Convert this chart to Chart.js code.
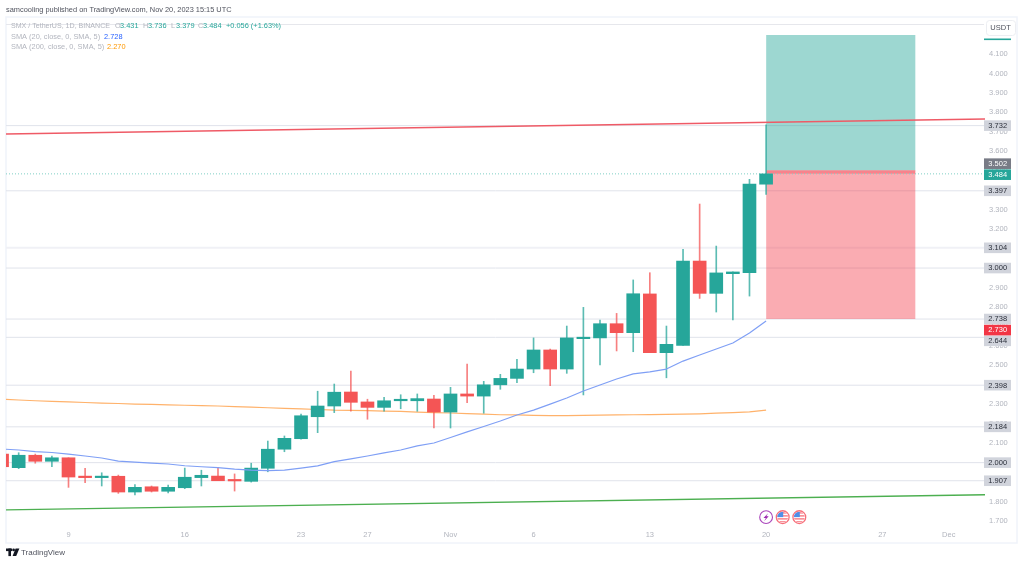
<!DOCTYPE html>
<html>
<head>
<meta charset="utf-8">
<title>SMX / TetherUS</title>
<script src="https://cdn.jsdelivr.net/npm/chart.js@4"></script>
<style>
  html, body { margin: 0; padding: 0; background: #ffffff; }
  canvas { display: block; }
</style>
</head>
<body>
<canvas id="chart" width="1024" height="565"></canvas>
<script>
// Daily candles, counted in days from 1 Oct 2023 (day 32 is 1 Nov).
const days = [5,6,7,8,9,10,11,12,13,14,15,16,17,18,19,20,21,22,23,24,25,26,27,28,29,30,31,32,33,34,35,36,37,38,39,40,41,42,43,44,45,46,47,48,49,50,51];
const opens = [2.044,1.974,2.038,2.007,2.025,1.926,1.923,1.930,1.849,1.876,1.853,1.871,1.923,1.931,1.911,1.904,1.971,2.069,2.123,2.236,2.291,2.363,2.312,2.284,2.318,2.318,2.327,2.260,2.353,2.342,2.400,2.433,2.481,2.579,2.481,2.637,2.641,2.714,2.668,2.867,2.565,2.603,3.036,2.870,2.971,2.976,3.431];
const highs = [2.044,2.051,2.044,2.034,2.025,1.971,1.948,1.936,1.887,1.880,1.885,1.972,1.961,1.976,1.942,1.997,2.111,2.137,2.250,2.367,2.404,2.471,2.326,2.336,2.349,2.353,2.346,2.387,2.507,2.418,2.454,2.531,2.641,2.584,2.702,2.798,2.733,2.767,2.939,2.976,2.702,3.096,3.329,3.113,2.980,3.456,3.736];
const lows = [1.979,1.969,1.997,1.979,1.873,1.897,1.880,1.842,1.834,1.849,1.845,1.866,1.880,1.907,1.854,1.900,1.953,2.056,2.120,2.154,2.257,2.264,2.223,2.264,2.277,2.264,2.178,2.178,2.308,2.254,2.377,2.411,2.462,2.395,2.459,2.348,2.502,2.574,2.570,2.565,2.436,2.603,2.844,2.774,2.733,2.856,3.379];
const closes = [1.979,2.038,2.007,2.025,1.926,1.923,1.930,1.849,1.873,1.853,1.873,1.925,1.935,1.907,1.906,1.972,2.069,2.125,2.241,2.291,2.362,2.310,2.284,2.318,2.322,2.329,2.260,2.353,2.342,2.400,2.433,2.481,2.579,2.481,2.641,2.641,2.714,2.668,2.868,2.565,2.608,3.036,2.870,2.975,2.980,3.431,3.484];

// Moving averages, one value per candle.
const sma20 = [2.070,2.065,2.057,2.052,2.044,2.034,2.024,2.008,2.003,1.998,1.993,1.984,1.979,1.974,1.967,1.962,1.959,1.962,1.972,1.983,2.005,2.019,2.034,2.050,2.065,2.086,2.101,2.129,2.158,2.186,2.214,2.245,2.270,2.301,2.332,2.368,2.399,2.430,2.456,2.466,2.481,2.522,2.553,2.584,2.615,2.666,2.728];
const sma200 = [2.326,2.322,2.318,2.315,2.312,2.309,2.306,2.304,2.301,2.299,2.297,2.295,2.293,2.291,2.288,2.285,2.282,2.279,2.276,2.273,2.270,2.269,2.267,2.265,2.263,2.260,2.257,2.255,2.252,2.249,2.246,2.245,2.243,2.242,2.242,2.243,2.244,2.245,2.246,2.247,2.248,2.249,2.251,2.254,2.257,2.261,2.270];

// Axis contents.
const priceTicks = [1.7,1.8,1.9,2.0,2.1,2.2,2.3,2.4,2.5,2.6,2.7,2.8,2.9,3.0,3.1,3.2,3.3,3.4,3.5,3.6,3.7,3.8,3.9,4.0,4.1];
const timeTickDays = [9,16,23,27,32,37,44,51,58,62];
const timeTickLabels = ['9','16','23','27','Nov','6','13','20','27','Dec'];

// Horizontal levels and the two trend lines.
const levels = [3.732,3.397,3.104,3.000,2.738,2.644,2.398,2.184,2.000,1.907];
const wideLevels = [3.104];
const redTrend = [3.689,3.766];
const greenTrend = [1.757,1.835];
const lastPrice = 3.484;

// Long position tool.
const positionDays = [51,60];
const positionTarget = 4.198;
const positionEntry = 3.502;
const positionStop = 2.738;

// Economic calendar markers under the last candles.
const eventDays = [51,52,53];
const eventKinds = ['split','flag','flag'];
const eventPrice = 1.72;

const TEAL = '#26a69a', CANDLE_RED = '#f45555', CANDLE_TEAL = '#26a69a';
const XMIN = 5.237, XMAX = 64.18, YMIN = 1.6744, YMAX = 4.2542;
const FONT = '"Liberation Sans", Arial, sans-serif';

const isUp = i => closes[i] >= opens[i];
const candleColor = ctx => isUp(ctx.dataIndex) ? CANDLE_TEAL : CANDLE_RED;
const wickColor = ctx => isUp(ctx.dataIndex) ? 'rgba(38,166,154,0.75)' : 'rgba(244,85,85,0.75)';
const span = v => [{x: XMIN, y: v}, {x: XMAX, y: v}];
const lineStyle = {type: 'line', pointRadius: 0, borderJoinStyle: 'round', tension: 0, fill: false};

function band(top, base, color, order) {
  return {...lineStyle, data: positionDays.map(x => ({x, y: top})), fill: {value: base},
          backgroundColor: color, borderWidth: 0, order};
}

const datasets = [
  // levels sit behind everything else
  ...levels.map(v => ({...lineStyle, data: span(v),
      borderColor: wideLevels.includes(v) ? '#f0f1f6' : '#e0e3eb',
      borderWidth: wideLevels.includes(v) ? 2 : 1, order: 20})),
  band(positionTarget, positionEntry, 'rgba(38,166,154,0.45)', 15),
  band(positionEntry, positionStop, 'rgba(242,54,69,0.41)', 15),
  band(positionEntry, lastPrice, 'rgba(242,54,69,0.35)', 14),
  {...lineStyle, data: span(lastPrice), borderColor: '#7fcfc6', borderWidth: 1, borderDash: [1, 2], order: 13},
  {...lineStyle, data: days.map((x, i) => ({x, y: sma200[i]})), borderColor: '#ffb26b', borderWidth: 1.2, order: 12},
  {type: 'bar', data: days.map((x, i) => ({x, y: [lows[i], highs[i]]})), backgroundColor: wickColor,
   barThickness: 1, borderWidth: 0, grouped: false, order: 6},
  {type: 'bar', data: days.map((x, i) => ({x, y: [opens[i], closes[i]]})), backgroundColor: candleColor,
   barThickness: 13, borderWidth: 0, grouped: false, minBarLength: 1.5, order: 5},
  {...lineStyle, data: days.map((x, i) => ({x, y: sma20[i]})), borderColor: '#7f9ff5', borderWidth: 1.2, order: 4},
  {...lineStyle, data: [{x: XMIN, y: redTrend[0]}, {x: XMAX, y: redTrend[1]}], borderColor: '#ef5a66', borderWidth: 1.3, order: 3},
  {...lineStyle, data: [{x: XMIN, y: greenTrend[0]}, {x: XMAX, y: greenTrend[1]}], borderColor: '#4caf50', borderWidth: 1.3, order: 3}
];

// Price-scale badges; offsets keep neighbouring badges from colliding.
const badges = [
  ...levels.map(v => ({v, text: v.toFixed(3), bg: '#d1d4dc', fg: '#2a2e39', dy: v === 2.644 ? 3.5 : 0})),
  {v: 2.730, text: '2.730', bg: '#f23645', fg: '#ffffff', dy: 9.5},
  {v: positionEntry, text: '3.502', bg: '#787b86', fg: '#ffffff', dy: -6.7},
  {v: lastPrice, text: '3.484', bg: '#26a69a', fg: '#ffffff', dy: 0.8}
];

const legendRows = [
  {y: 26.3, parts: [[11, 'SMX / TetherUS, 1D, BINANCE', '#b2b5be', 99], [115, 'O', '#b2b5be'], [120, '3.431', TEAL],
    [143, 'H', '#b2b5be'], [148, '3.736', TEAL], [171, 'L', '#b2b5be'], [176, '3.379', TEAL],
    [198, 'C', '#b2b5be'], [203, '3.484', TEAL], [226, '+0.056 (+1.63%)', TEAL]]},
  {y: 36.7, parts: [[11, 'SMA (20, close, 0, SMA, 5)', '#b2b5be'], [104, '2.728', '#2962ff']]},
  {y: 47.3, parts: [[11, 'SMA (200, close, 0, SMA, 5)', '#b2b5be'], [107, '2.270', '#ff9800']]}
];

function drawFlagIcon(ctx, cx, cy) {
  ctx.save();
  ctx.beginPath(); ctx.arc(cx, cy, 6.4, 0, Math.PI * 2);
  ctx.fillStyle = '#ffffff'; ctx.fill();
  ctx.strokeStyle = '#f7707b'; ctx.lineWidth = 1.3; ctx.stroke();
  ctx.beginPath(); ctx.arc(cx, cy, 5.4, 0, Math.PI * 2); ctx.clip();
  ctx.fillStyle = '#f7838c';
  for (let i = 0; i < 4; i++) ctx.fillRect(cx - 6, cy - 5 + i * 3, 12, 1.5);
  ctx.fillStyle = '#4e8fe8';
  ctx.fillRect(cx - 6, cy - 6, 6.5, 6);
  ctx.restore();
}

function drawSplitIcon(ctx, cx, cy) {
  ctx.save();
  ctx.beginPath(); ctx.arc(cx, cy, 6.4, 0, Math.PI * 2);
  ctx.fillStyle = '#ffffff'; ctx.fill();
  ctx.strokeStyle = '#ab47bc'; ctx.lineWidth = 1.1; ctx.stroke();
  ctx.beginPath();
  ctx.moveTo(cx + 2, cy - 4); ctx.lineTo(cx - 2.6, cy + 0.8); ctx.lineTo(cx - 0.2, cy + 0.8);
  ctx.lineTo(cx - 2, cy + 4); ctx.lineTo(cx + 2.6, cy - 0.8); ctx.lineTo(cx + 0.2, cy - 0.8);
  ctx.closePath();
  ctx.fillStyle = '#9c27b0'; ctx.fill();
  ctx.restore();
}

function drawLogo(ctx, x, y) {
  ctx.save();
  ctx.fillStyle = '#131722';
  ctx.fillRect(x, y, 6, 2.6);
  ctx.fillRect(x + 2.4, y, 2.6, 7.6);
  ctx.beginPath(); ctx.arc(x + 7.6, y + 1.4, 1.4, 0, Math.PI * 2); ctx.fill();
  ctx.beginPath();
  ctx.moveTo(x + 9.6, y); ctx.lineTo(x + 13.4, y); ctx.lineTo(x + 10.2, y + 7.6); ctx.lineTo(x + 6.6, y + 7.6);
  ctx.closePath(); ctx.fill();
  ctx.restore();
}

const decorations = {
  id: 'decorations',
  beforeDraw(chart) {
    const c = chart.ctx;
    c.save();
    c.strokeStyle = '#f0f3fa'; c.lineWidth = 1.5;
    c.strokeRect(6, 17, 1011, 526);
    c.strokeStyle = '#e6e7ec'; c.lineWidth = 1;
    c.beginPath(); c.moveTo(6, 24.5); c.lineTo(984, 24.5); c.stroke();
    c.restore();
  },
  afterDraw(chart) {
    const c = chart.ctx, ys = chart.scales.y, xs = chart.scales.x;
    c.save();
    c.textBaseline = 'middle';

    // title line
    c.font = '7.4px ' + FONT; c.fillStyle = '#50535e'; c.textAlign = 'left';
    c.fillText('samcooling published on TradingView.com, Nov 20, 2023 15:15 UTC', 6, 9.5);

    // indicator legend
    c.font = '7.4px ' + FONT;
    for (const row of legendRows) {
      for (const [x, text, color, fit] of row.parts) {
        c.fillStyle = color;
        if (fit) c.fillText(text, x, row.y, fit); else c.fillText(text, x, row.y);
      }
    }

    // currency button
    c.fillStyle = '#ffffff'; c.strokeStyle = '#eceef2'; c.lineWidth = 1;
    c.beginPath(); c.roundRect(986.5, 20.5, 29, 15, 3); c.fill(); c.stroke();
    c.fillStyle = '#50535e'; c.textAlign = 'center'; c.font = '7.5px ' + FONT;
    c.fillText('USDT', 1000.5, 28.3);

    // clipped badge of the position target at the top of the scale
    c.fillStyle = TEAL; c.fillRect(984, 38.5, 27, 1.6);

    // price badges
    c.font = '7.5px ' + FONT; c.textAlign = 'center';
    for (const b of badges) {
      const py = ys.getPixelForValue(b.v) + b.dy;
      c.fillStyle = b.bg; c.fillRect(984, py - 5.3, 27, 10.6);
      c.fillStyle = b.fg; c.fillText(b.text, 997.7, py + 0.3);
    }

    // calendar markers
    eventDays.forEach((d, i) => {
      const px = xs.getPixelForValue(d), py = ys.getPixelForValue(eventPrice);
      (eventKinds[i] === 'split' ? drawSplitIcon : drawFlagIcon)(c, px, py);
    });

    // footer logo
    drawLogo(c, 6, 548.5);
    c.font = '8px ' + FONT; c.fillStyle = '#50535e'; c.textAlign = 'left';
    c.fillText('TradingView', 21, 553);
    c.restore();
  }
};

new Chart(document.getElementById('chart'), {
  type: 'bar',
  data: {datasets},
  plugins: [decorations],
  options: {
    responsive: false,
    animation: false,
    layout: {padding: {left: 6, top: 24, right: 0, bottom: 0}},
    plugins: {legend: {display: false}, tooltip: {enabled: false}},
    scales: {
      x: {
        type: 'linear', offset: false, min: XMIN, max: XMAX, position: 'bottom',
        grid: {display: false, drawTicks: false}, border: {display: false},
        afterBuildTicks: s => { s.ticks = timeTickDays.map(value => ({value})); },
        afterFit: s => { s.height = 39; },
        ticks: {
          autoSkip: false, maxRotation: 0, padding: 4, color: '#b2b5be',
          font: {size: 7.5, family: FONT},
          callback: v => timeTickLabels[timeTickDays.indexOf(v)]
        }
      },
      y: {
        type: 'linear', min: YMIN, max: YMAX, position: 'right',
        grid: {display: false, drawTicks: false}, border: {display: false},
        afterBuildTicks: s => { s.ticks = priceTicks.map(value => ({value})); },
        afterFit: s => { s.width = 39; },
        ticks: {
          autoSkip: false, padding: 4, color: '#b2b5be', crossAlign: 'near',
          font: {size: 7.5, family: FONT},
          callback: v => Number(v).toFixed(3)
        }
      }
    }
  }
});
</script>
</body>
</html>
